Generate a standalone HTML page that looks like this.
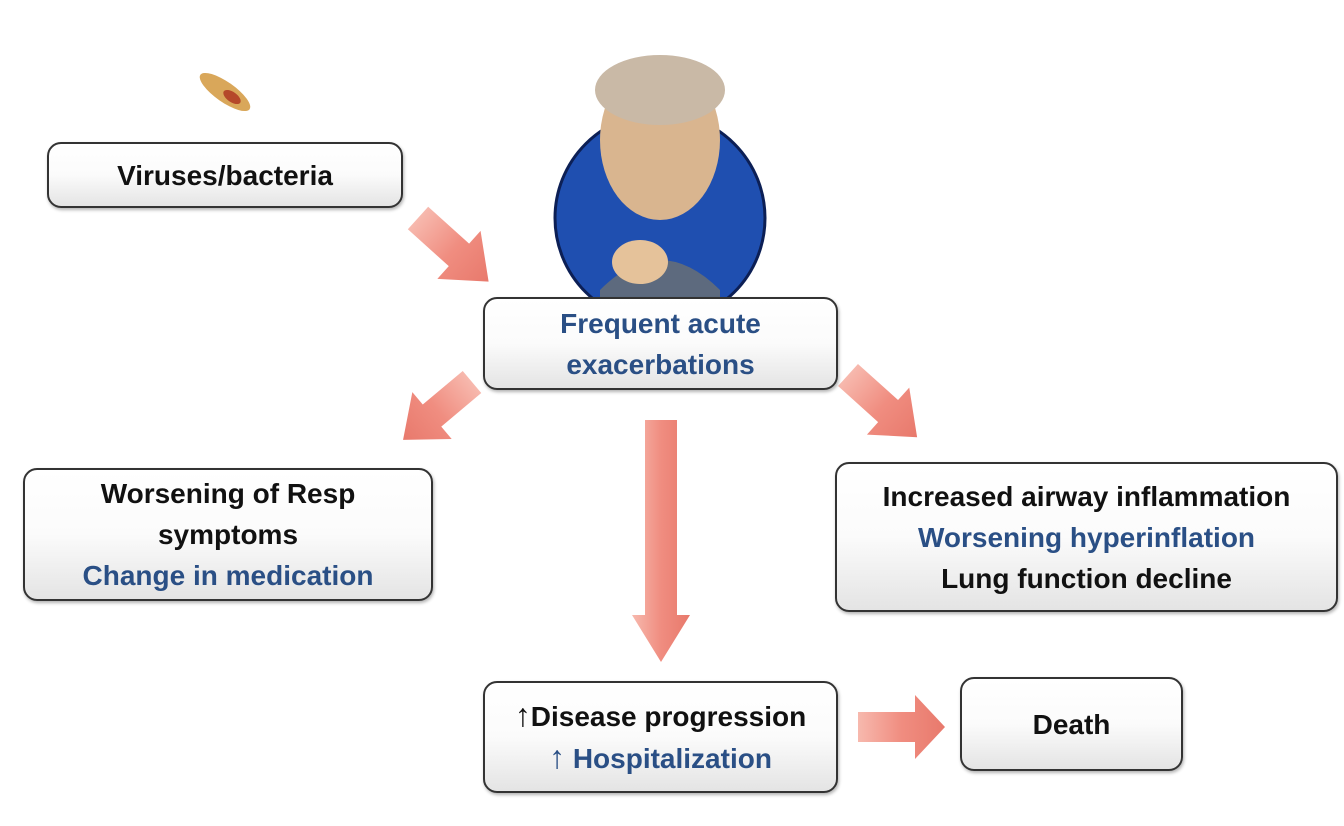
<!DOCTYPE html>
<html><head><style>
body{margin:0;width:1344px;height:826px;background:#fff;position:relative;overflow:hidden;font-family:"Liberation Sans",sans-serif;font-weight:bold;}
.b{position:absolute;border:2px solid #333;border-radius:14px;background:linear-gradient(#fff 0%,#fbfbfb 50%,#e4e4e4 100%);box-shadow:1px 2px 3px rgba(0,0,0,.3);display:flex;flex-direction:column;justify-content:center;align-items:center;text-align:center;font-size:28px;line-height:41px;color:#111;box-sizing:border-box;white-space:nowrap;}
.bl{color:#2a4f85;}
.up{font-size:32px;}
</style></head><body>
<svg width="1344" height="826" style="position:absolute;left:0;top:0">
<defs>
<linearGradient id="g" x1="0" y1="0" x2="1" y2="0"><stop offset="0" stop-color="#f7b9ae"/><stop offset="0.5" stop-color="#f08d80"/><stop offset="1" stop-color="#e8796c"/></linearGradient>
<g id="ar"><polygon points="0,-16 58,-16 58,-34 100,0 58,34 58,16 0,16" fill="url(#g)"/></g>
</defs>
<ellipse cx="225" cy="92" rx="30" ry="10" fill="#d9a75a" transform="rotate(35 225 92)"/>
<ellipse cx="232" cy="97" rx="10" ry="5" fill="#b5482a" transform="rotate(35 232 97)"/>
<circle cx="660" cy="218" r="105" fill="#1f4fb0" stroke="#0c1f55" stroke-width="3"/>
<ellipse cx="660" cy="140" rx="60" ry="80" fill="#d9b58f"/>
<ellipse cx="660" cy="90" rx="65" ry="35" fill="#c9b9a6"/>
<path d="M600 290 Q660 230 720 290 L720 300 L600 300Z" fill="#5d6a7e"/>
<ellipse cx="640" cy="262" rx="28" ry="22" fill="#e5c29a"/>
<use href="#ar" transform="translate(418,218) rotate(42) scale(0.95)"/>
<use href="#ar" transform="translate(472,382) rotate(140) scale(0.9)"/>
<use href="#ar" transform="translate(848,375) rotate(42) scale(0.93)"/>
<polygon points="645,420 677,420 677,615 690,615 661,662 632,615 645,615" fill="url(#g)"/>
<polygon points="858,712 915,712 915,695 945,727 915,759 915,742 858,742" fill="url(#g)"/>
</svg>
<div class="b" style="left:47px;top:142px;width:356px;height:66px">Viruses/bacteria</div>
<div class="b bl" style="left:483px;top:297px;width:355px;height:93px">Frequent acute<br>exacerbations</div>
<div class="b" style="left:23px;top:468px;width:410px;height:133px"><div>Worsening of Resp<br>symptoms</div><div class="bl">Change in medication</div></div>
<div class="b" style="left:835px;top:462px;width:503px;height:150px"><div>Increased airway inflammation</div><div class="bl">Worsening hyperinflation</div><div>Lung function decline</div></div>
<div class="b" style="left:483px;top:681px;width:355px;height:112px"><div><span class="up">↑</span>Disease progression</div><div class="bl"><span class="up">↑</span> Hospitalization</div></div>
<div class="b" style="left:960px;top:677px;width:223px;height:94px">Death</div>
</body></html>
